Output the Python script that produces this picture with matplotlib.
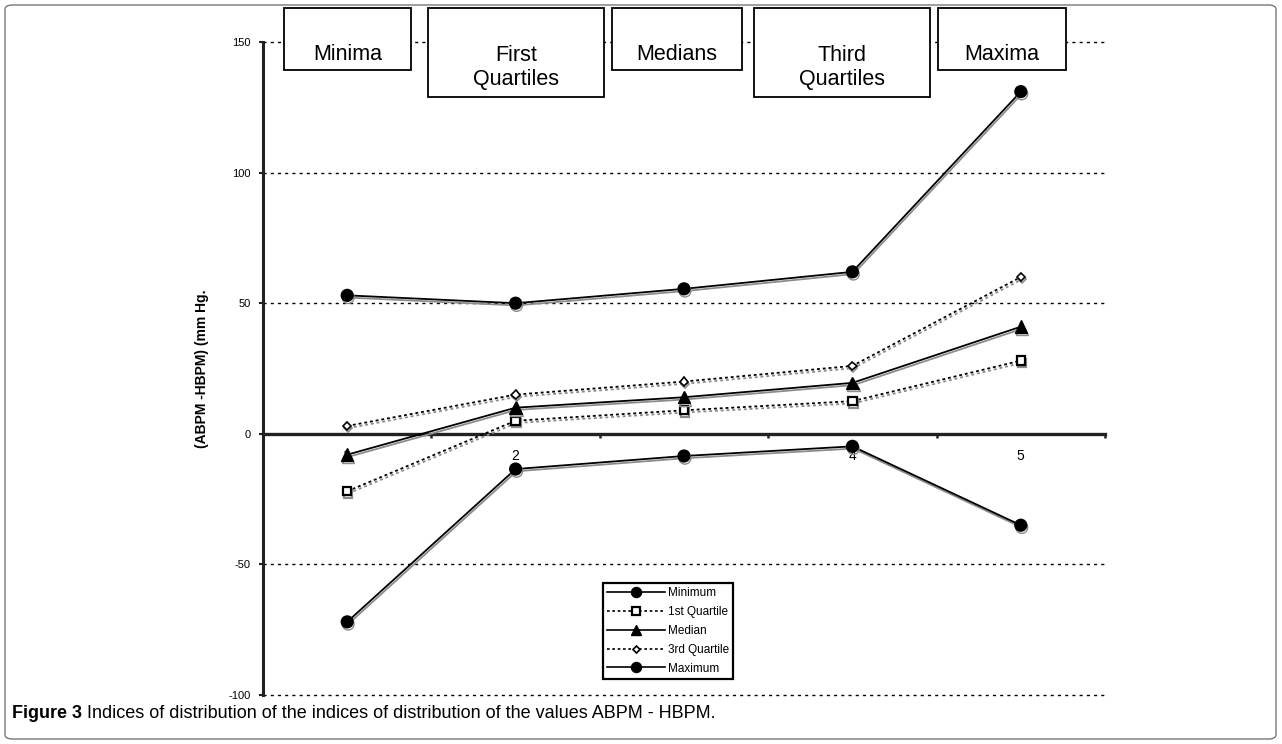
import matplotlib
matplotlib.use("Agg")
import matplotlib.pyplot as plt
from matplotlib.patches import Rectangle, FancyBboxPatch
from matplotlib.lines import Line2D
import matplotlib.patheffects as pe

# ---------------- data ----------------
categories = [1, 2, 3, 4, 5]
cat_labels = ["1", "2", "3", "4", "5"]
minimum = [-72, -13.5, -8.5, -4.8, -35]
q1 = [-22, 5, 9, 12.5, 28]
median = [-8, 10, 14, 19.5, 41]
q3 = [3, 15, 20, 26, 60]
maximum = [53, 50, 55.5, 62, 131]
series_names = ["Minimum", "1st Quartile", "Median", "3rd Quartile", "Maximum"]
yticks = [-100, -50, 0, 50, 100, 150]
header_labels = ["Minima", "First\nQuartiles", "Medians", "Third\nQuartiles", "Maxima"]
ylabel = "(ABPM -HBPM) (mm Hg."
caption_bold = "Figure 3"
caption_text = " Indices of distribution of the indices of distribution of the values ABPM - HBPM."

W, H = 1282, 744
fig = plt.figure(figsize=(W / 100, H / 100), dpi=100)

def fx(px):
    return px / W

def fy(py):
    return 1 - py / H

# outer border
fig.patches.append(FancyBboxPatch((fx(5), fy(739)), fx(1276) - fx(5), fy(5) - fy(739),
                                  boxstyle="round,pad=0,rounding_size=0.006",
                                  transform=fig.transFigure, fill=False,
                                  edgecolor="#777777", linewidth=1.0))

ax_l, ax_r, ax_t, ax_b = 263, 1105, 42, 695
ax = fig.add_axes([fx(ax_l), fy(ax_b), fx(ax_r) - fx(ax_l), fy(ax_t) - fy(ax_b)])
ax.set_xlim(0.5, 5.5)
ax.set_ylim(-100, 150)
ax.set_axisbelow(True)

for s in ["top", "right"]:
    ax.spines[s].set_visible(False)
ax.spines["left"].set_linewidth(2.2)
ax.spines["left"].set_color("#222222")
ax.spines["bottom"].set_position(("data", 0))
ax.spines["bottom"].set_linewidth(2.4)
ax.spines["bottom"].set_color("#222222")
ax.spines["bottom"].set_zorder(1.5)

# gridlines
for v in yticks:
    if v != 0:
        ax.axhline(v, color="black", linewidth=1.0, linestyle=(0, (2.2, 3.0)),
                   zorder=0.8, clip_on=False)

ax.set_yticks(yticks)
ax.set_yticklabels([str(v) for v in yticks], fontsize=8, family="Liberation Sans")
ax.tick_params(axis="y", direction="out", length=3, width=1.5, pad=6, color="#222222")

ax.set_xticks([0.5, 1.5, 2.5, 3.5, 4.5, 5.5])
ax.set_xticklabels([""] * 6)
ax.set_xticks(categories, minor=True)
ax.set_xticklabels(cat_labels, minor=True, fontsize=10, family="Liberation Sans")
ax.tick_params(axis="x", which="major", direction="out", length=3, width=1.8, color="#222222")
ax.tick_params(axis="x", which="minor", length=0, pad=11)

ax.set_ylabel(ylabel, fontsize=10, fontweight="bold", family="Liberation Sans", labelpad=14)

shadow = [pe.SimpleLineShadow(offset=(0.7, -1.6), shadow_color="#8c8c8c", alpha=1.0), pe.Normal()]
dash = (0, (1.6, 1.6))

styles = [
    dict(data=minimum, ls="-", marker="o", ms=8.5, mfc="black", mew=1.0),
    dict(data=q1, ls=dash, marker="s", ms=6.0, mfc="white", mew=1.6),
    dict(data=median, ls="-", marker="^", ms=9.0, mfc="black", mew=1.0),
    dict(data=q3, ls=dash, marker="D", ms=4.2, mfc="white", mew=1.2),
    dict(data=maximum, ls="-", marker="o", ms=8.5, mfc="black", mew=1.0),
]

handles = []
for name, st in zip(series_names, styles):
    ax.plot(categories, st["data"], color="black", linestyle=st["ls"], linewidth=1.3,
            marker=st["marker"], markersize=st["ms"], markerfacecolor=st["mfc"],
            markeredgecolor="black", markeredgewidth=st["mew"], zorder=3,
            path_effects=shadow)
    handles.append(Line2D([], [], color="black", linestyle=st["ls"], linewidth=1.2,
                          marker=st["marker"], markersize=st["ms"] * 0.85,
                          markerfacecolor=st["mfc"], markeredgecolor="black",
                          markeredgewidth=st["mew"]))

leg = fig.legend(handles, series_names, loc="upper left",
                 bbox_to_anchor=(fx(603), fy(583)), bbox_transform=fig.transFigure,
                 prop={"family": "Liberation Sans", "size": 8.5},
                 frameon=True, fancybox=False, handlelength=4.9, handletextpad=0.25,
                 labelspacing=0.58, borderpad=0.35, borderaxespad=0, framealpha=1)
leg.get_frame().set_edgecolor("black")
leg.get_frame().set_linewidth(1.6)

# header boxes
boxes = [(284, 411, 8, 70), (428, 604, 8, 97), (612, 742, 8, 70), (754, 930, 8, 97), (938, 1066, 8, 70)]
for lab, (x0, x1, y0, y1) in zip(header_labels, boxes):
    fig.patches.append(Rectangle((fx(x0), fy(y1)), fx(x1) - fx(x0), fy(y0) - fy(y1),
                                 transform=fig.transFigure, facecolor="white",
                                 edgecolor="black", linewidth=1.3, zorder=5))
    nlines = lab.count("\n") + 1
    yc = 54 if nlines == 1 else 67.5
    fig.text(fx((x0 + x1) / 2), fy(yc), lab, ha="center", va="center", fontsize=15.5,
             family="Liberation Sans", linespacing=1.2, zorder=6)

# caption
t1 = fig.text(fx(12), fy(713), caption_bold, fontsize=13, fontweight="bold",
              family=["Liberation Sans Narrow", "Liberation Sans"], va="center", ha="left")
fig.canvas.draw()
bb = t1.get_window_extent()
fig.text(bb.x1 / W, fy(713), caption_text, fontsize=13,
         family=["Liberation Sans Narrow", "Liberation Sans"], va="center", ha="left")

fig.savefig("out.png", dpi=100)
